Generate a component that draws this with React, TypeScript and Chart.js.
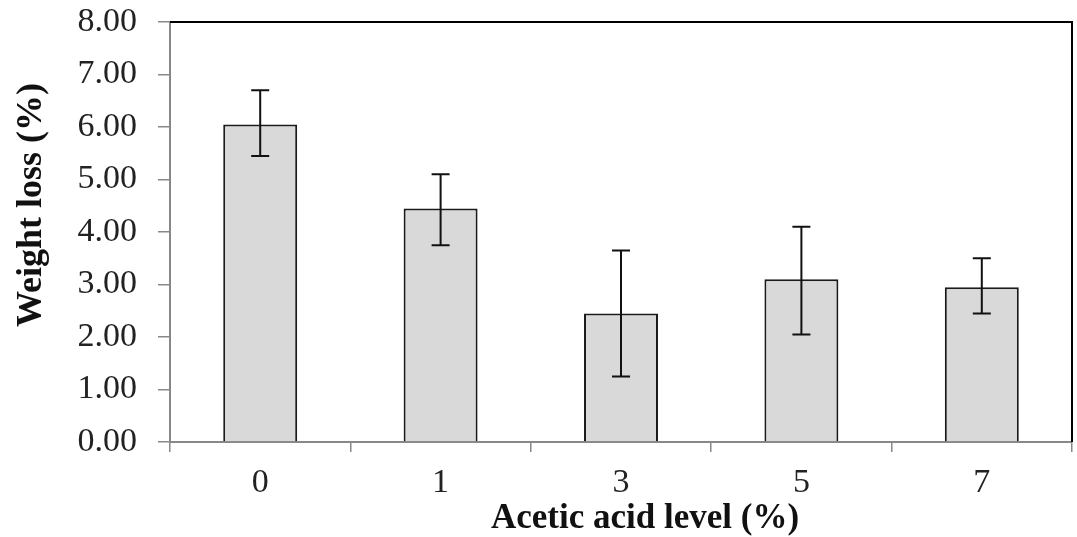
import React, { useEffect, useRef } from "react";
import { Chart, registerables } from "chart.js";

Chart.register(...registerables);

const categories = ["0", "1", "3", "5", "7"];
const weightLoss = [6.05, 4.45, 2.45, 3.1, 2.95];
const errLow = [0.6, 0.7, 1.2, 1.05, 0.5];
const errHigh = [0.65, 0.65, 1.2, 1.0, 0.55];
const yTicks = [0, 1, 2, 3, 4, 5, 6, 7, 8];
const xTitle = "Acetic acid level (%)";
const yTitle = "Weight loss (%)";

const SERIF = "'Liberation Serif', 'Times New Roman', serif";

const framePlugin = {
  id: "frame",
  afterDraw(chart: any) {
    const { ctx, chartArea } = chart;
    ctx.save();
    ctx.strokeStyle = "#000";
    ctx.lineWidth = 2;
    ctx.beginPath();
    ctx.moveTo(chartArea.left, chartArea.top);
    ctx.lineTo(chartArea.right, chartArea.top);
    ctx.lineTo(chartArea.right, chartArea.bottom);
    ctx.stroke();
    ctx.fillStyle = "#111";
    ctx.textAlign = "center";
    ctx.textBaseline = "middle";
    // x-axis title
    ctx.font = `bold 35px ${SERIF}`;
    ctx.fillText(xTitle, 645, 519);
    // y-axis title (rotated)
    ctx.font = `bold 36px ${SERIF}`;
    ctx.translate(32, 205);
    ctx.rotate(-Math.PI / 2);
    ctx.fillText(yTitle, 0, 0);
    ctx.restore();
  },
};

const errorBarPlugin = {
  id: "errorBars",
  afterDatasetsDraw(chart: any) {
    const { ctx } = chart;
    const meta = chart.getDatasetMeta(0);
    const y = chart.scales.y;
    ctx.save();
    ctx.strokeStyle = "#111";
    ctx.lineWidth = 2;
    meta.data.forEach((bar: any, i: number) => {
      const v = weightLoss[i];
      const yTop = y.getPixelForValue(v + errHigh[i]);
      const yBot = y.getPixelForValue(v - errLow[i]);
      const x = bar.x;
      const cap = 9;
      ctx.beginPath();
      ctx.moveTo(x, yTop);
      ctx.lineTo(x, yBot);
      ctx.moveTo(x - cap, yTop);
      ctx.lineTo(x + cap, yTop);
      ctx.moveTo(x - cap, yBot);
      ctx.lineTo(x + cap, yBot);
      ctx.stroke();
    });
    ctx.restore();
  },
};

export default function App() {
  const ref = useRef<HTMLCanvasElement>(null);
  useEffect(() => {
    if (!ref.current) return;
    const chart = new Chart(ref.current, {
      type: "bar",
      data: {
        labels: categories,
        datasets: [
          {
            data: weightLoss,
            backgroundColor: "#d9d9d9",
            borderColor: "#1a1a1a",
            borderWidth: 2,
            barPercentage: 0.41,
            categoryPercentage: 1,
          },
        ],
      },
      options: {
        animation: false,
        responsive: false,
        maintainAspectRatio: false,
        layout: { padding: { top: 22, right: 5, left: 0, bottom: 0 } },
        plugins: { legend: { display: false }, tooltip: { enabled: false } },
        scales: {
          x: {
            grid: {
              drawOnChartArea: false,
              drawTicks: true,
              tickLength: 10,
              color: "#888",
              lineWidth: 1.5,
            },
            border: { color: "#888", width: 2 },
            ticks: {
              color: "#222",
              font: { family: SERIF, size: 34 },
              padding: 11,
            },
            title: { display: false, text: xTitle },
            afterFit(scale: any) {
              scale.height = 95;
              scale.paddingLeft = 0;
              scale.paddingRight = 0;
            },
          },
          y: {
            min: 0,
            max: 8,
            afterBuildTicks(scale: any) {
              scale.ticks = yTicks.map((v) => ({ value: v }));
            },
            grid: {
              drawOnChartArea: false,
              drawTicks: true,
              tickLength: 12,
              color: "#888",
              lineWidth: 1.5,
            },
            border: { color: "#888", width: 2 },
            ticks: {
              color: "#222",
              font: { family: SERIF, size: 34 },
              padding: 21,
              callback: (v: any) => Number(v).toFixed(2),
            },
            title: { display: false, text: yTitle },
            afterFit(scale: any) {
              scale.width = 170;
              scale.paddingTop = 0;
              scale.paddingBottom = 0;
            },
          },
        },
      },
      plugins: [framePlugin, errorBarPlugin],
    });
    return () => chart.destroy();
  }, []);
  return (
    <div style={{ position: "fixed", left: 0, top: 0, width: 1077, height: 537, background: "#fff" }}>
      <canvas ref={ref} width={1077} height={537} style={{ width: 1077, height: 537 }} />
    </div>
  );
}
